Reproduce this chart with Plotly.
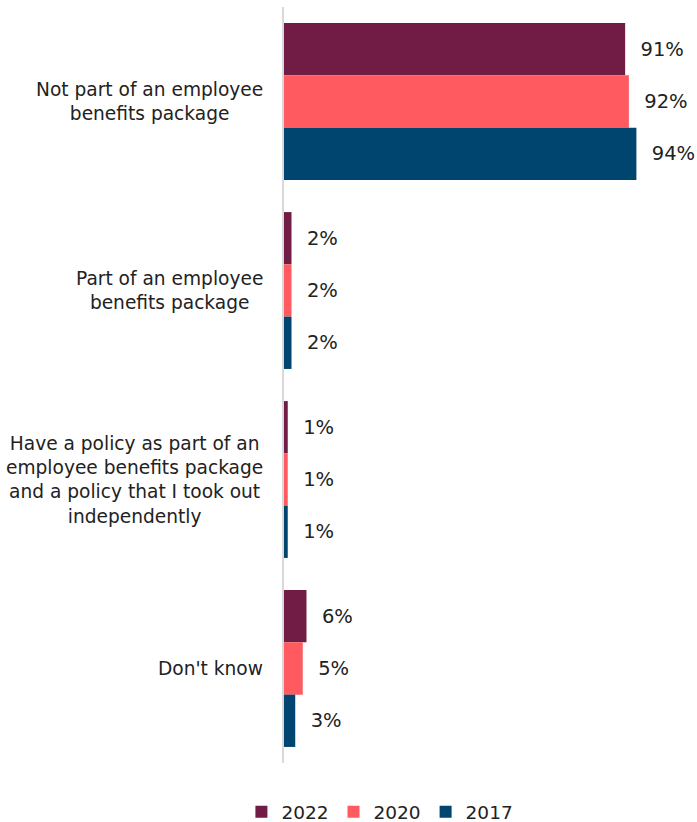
import plotly.graph_objects as go

# Survey responses: how the policy is held
categories = [
    "Not part of an employee<br>benefits package",
    "Part of an employee<br>benefits package",
    "Have a policy as part of an<br>employee benefits package<br>and a policy that I took out<br>independently",
    "Don't know",
]
years = ["2022", "2020", "2017"]
values_2022 = [91, 2, 1, 6]
values_2020 = [92, 2, 1, 5]
values_2017 = [94, 2, 1, 3]

series = [values_2022, values_2020, values_2017]
colors = ["#701C45", "#FF5A5F", "#004470"]

FONT = "Verdana, DejaVu Sans, sans-serif"
TEXT_COLOR = "#222222"
PAD = "\u00a0\u00a0"

fig = go.Figure()
for name, vals, col in zip(years, series, colors):
    fig.add_trace(go.Bar(
        name=name,
        y=categories,
        x=vals,
        orientation="h",
        marker=dict(color=col, line=dict(width=0)),
        text=[f"{PAD}{v}%" for v in vals],
        textposition="outside",
        textfont=dict(family=FONT, size=19.5, color=TEXT_COLOR),
        constraintext="none",
        cliponaxis=False,
        hoverinfo="skip",
    ))

# Category labels, centred line by line, to the left of the axis
for cat in categories:
    fig.add_annotation(
        x=0, xref="paper", xanchor="right", xshift=-19,
        y=cat, yref="y", yanchor="middle",
        text=cat, align="center", showarrow=False,
        font=dict(family=FONT, size=18.6, color=TEXT_COLOR),
    )

fig.update_layout(
    width=697, height=822,
    margin=dict(l=284, r=10, t=7, b=59, autoexpand=False),
    paper_bgcolor="white", plot_bgcolor="white",
    barmode="group", bargap=0.17, bargroupgap=0,
    font=dict(family=FONT, size=18, color=TEXT_COLOR),
    showlegend=True,
    legend=dict(
        orientation="h",
        x=0.238, xanchor="center",
        y=-0.065, yanchor="middle",
        font=dict(family=FONT, size=18.5, color=TEXT_COLOR),
        itemwidth=30,
        traceorder="normal",
    ),
    xaxis=dict(range=[0, 107.5], showgrid=False, zeroline=False,
               showticklabels=False, showline=False, fixedrange=True),
    yaxis=dict(autorange="reversed", showgrid=False, zeroline=False,
               showticklabels=False, ticks="", showline=True,
               linecolor="#D9D9D9", linewidth=2, fixedrange=True),
)

fig.write_html("out.html")
